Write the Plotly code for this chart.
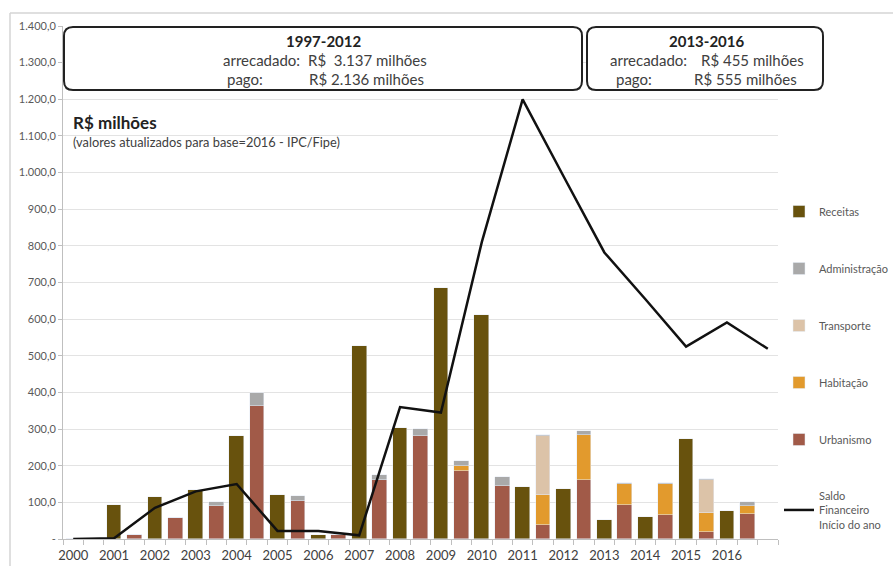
import plotly.graph_objects as go

# ---------------- data ----------------
years = [str(y) for y in range(2000, 2017)]
saldo_years = list(range(2000, 2018))
receitas = [1, 92, 115, 133, 280, 120, 10, 527, 303, 685, 610, 142, 136, 53, 60, 273, 77]
urbanismo = [1, 12, 56, 90, 362, 103, 12, 162, 280, 186, 144, 39, 160, 94, 65, 19, 68]
habitacao = [0, 0, 0, 0, 0, 0, 0, 0, 0, 12, 0, 82, 123, 56, 85, 53, 23]
transporte = [0, 0, 0, 0, 0, 0, 0, 0, 0, 0, 0, 161, 0, 0, 0, 90, 0]
administracao = [0, 0, 0, 10, 36, 15, 0, 13, 20, 16, 24, 2, 11, 3, 3, 3, 9]
saldo = [0, 2, 85, 130, 150, 22, 22, 10, 360, 345, 810, 1200, 990, 782, 655, 525, 591, 519]

y_ticks = [0, 100, 200, 300, 400, 500, 600, 700, 800, 900, 1000, 1100, 1200, 1300, 1400]
y_ticktext = ["-", "100,0", "200,0", "300,0", "400,0", "500,0", "600,0", "700,0", "800,0",
              "900,0", "1.000,0", "1.100,0", "1.200,0", "1.300,0", "1.400,0"]

# ---------------- layout geometry ----------------
W, H = 893, 566
L, R, T, B = 63, 778, 26, 539

def px(x):
    return (x - L) / (R - L)

def py(y):
    return (B - y) / (B - T)

FONT = "Lato, 'Open Sans', sans-serif"
C_REC = "#68520d"
C_ADM = "#a9a9a9"
C_TRA = "#dcc3a8"
C_HAB = "#e29a2d"
C_URB = "#a15a48"

x_rec = [2 * i for i in range(len(years))]
x_exp = [2 * i + 1 for i in range(len(years))]
x_saldo = [2 * i for i in range(len(saldo_years))]

fig = go.Figure()
bw = 0.72
fig.add_trace(go.Bar(x=x_rec, y=receitas, name="Receitas", marker_color=C_REC, width=bw,
                     legendgroup="a", legendrank=1))
fig.add_trace(go.Bar(x=x_exp, y=urbanismo, name="Urbanismo", marker_color=C_URB, width=bw,
                     legendgroup="e", legendrank=5))
fig.add_trace(go.Bar(x=x_exp, y=habitacao, name="Habitação", marker_color=C_HAB, width=bw,
                     legendgroup="d", legendrank=4))
fig.add_trace(go.Bar(x=x_exp, y=transporte, name="Transporte", marker_color=C_TRA, width=bw,
                     legendgroup="c", legendrank=3))
fig.add_trace(go.Bar(x=x_exp, y=administracao, name="Administração", marker_color=C_ADM, width=bw,
                     legendgroup="b", legendrank=2))
fig.add_trace(go.Scatter(x=x_saldo, y=saldo, mode="lines", name="Saldo<br>Financeiro<br>Início do ano",
                         line=dict(color="#111111", width=2.5), legendgroup="f", legendrank=6))

# rounded rectangle path in paper coords
def rrect(x0, y0, x1, y1, r=9):
    rx = r / (R - L)
    ry = r / (B - T)
    X0, X1 = px(x0), px(x1)
    Y0, Y1 = py(y1), py(y0)  # bottom, top
    return (f"M {X0+rx},{Y1} L {X1-rx},{Y1} Q {X1},{Y1} {X1},{Y1-ry} "
            f"L {X1},{Y0+ry} Q {X1},{Y0} {X1-rx},{Y0} L {X0+rx},{Y0} "
            f"Q {X0},{Y0} {X0},{Y0+ry} L {X0},{Y1-ry} Q {X0},{Y1} {X0+rx},{Y1} Z")

shapes = [
    dict(type="path", xref="paper", yref="paper", path=rrect(64, 27, 582, 90),
         line=dict(color="#222222", width=2), fillcolor="white", layer="above"),
    dict(type="path", xref="paper", yref="paper", path=rrect(587, 27, 823, 90),
         line=dict(color="#222222", width=2), fillcolor="white", layer="above"),
    # outer chart frame (top & left edges visible)
    dict(type="line", xref="paper", yref="paper", x0=px(10), x1=px(900), y0=py(13), y1=py(13),
         line=dict(color="#d4d4d4", width=1.5)),
    dict(type="line", xref="paper", yref="paper", x0=px(10), x1=px(10), y0=py(13), y1=py(570),
         line=dict(color="#d4d4d4", width=1.5)),
]

TXT = "#404040"
def ann(text, x, y, size=15, anchor="left", bold=False, color=TXT):
    return dict(text=f"<b>{text}</b>" if bold else text, xref="paper", yref="paper",
                x=px(x), y=py(y), xanchor=anchor, yanchor="middle", showarrow=False,
                font=dict(family=FONT, size=size, color=color))

annotations = [
    ann("1997-2012", 323, 41, anchor="center", bold=True, color="#222222"),
    ann("arrecadado:", 221, 60),
    ann("R$  3.137 milhões", 306, 60),
    ann("pago:", 225, 79),
    ann("R$ 2.136 milhões", 307, 79),
    ann("2013-2016", 706, 41, anchor="center", bold=True, color="#222222"),
    ann("arrecadado:", 608, 60),
    ann("R$ 455 milhões", 699, 60),
    ann("pago:", 614, 79),
    ann("R$ 555 milhões", 692, 79),
    ann("R$ milhões", 71, 122, size=17, bold=True, color="#222222"),
    ann("(valores atualizados para base=2016 - IPC/Fipe)", 71, 142, size=12.8, color="#404040"),
]

fig.update_layout(
    width=W, height=H,
    margin=dict(l=L, r=W - R, t=T, b=H - B, autoexpand=False),
    paper_bgcolor="white", plot_bgcolor="white",
    barmode="stack", bargap=0,
    font=dict(family=FONT, color="#595959"),
    showlegend=True,
    legend=dict(x=px(779), y=py(197), xanchor="left", yanchor="top",
                traceorder="grouped", tracegroupgap=38,
                font=dict(family=FONT, size=11, color="#595959"),
                bgcolor="rgba(0,0,0,0)", itemwidth=30),
    shapes=shapes,
    annotations=annotations,
)

fig.update_xaxes(
    range=[-0.5, 34.5], tickmode="array", tickvals=x_rec, ticktext=years,
    ticks="", showgrid=False, zeroline=False,
    showline=True, linecolor="#bfbfbf", linewidth=1,
    tickfont=dict(family=FONT, size=13, color="#404040"),
    ticklabelstandoff=4,
    minor=dict(tickmode="array", tickvals=[i - 0.5 for i in range(36)], ticks="outside",
               ticklen=5, tickcolor="#bfbfbf", showgrid=False),
)
fig.update_yaxes(
    range=[0, 1400], tickmode="array", tickvals=y_ticks, ticktext=y_ticktext,
    showgrid=True, gridcolor="#e3e3e3", gridwidth=1, zeroline=False,
    showline=True, linecolor="#bfbfbf", linewidth=1,
    ticks="outside", ticklen=4, tickcolor="#bfbfbf",
    tickfont=dict(family=FONT, size=11, color="#595959"),
)

fig.write_html("out.html")
